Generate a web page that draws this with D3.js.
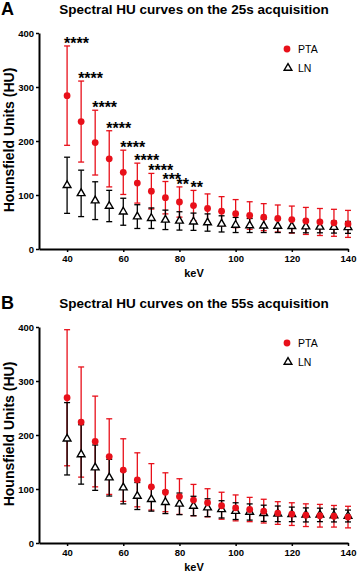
<!DOCTYPE html>
<html>
<head>
<meta charset="utf-8">
<script src="https://cdn.jsdelivr.net/npm/d3@7"></script>
<style>
  body { margin: 0; background: #fff; }
  svg { display: block; font-family: "Liberation Sans", Arial, sans-serif; }
</style>
</head>
<body>
<svg id="chart" width="358" height="574"></svg>
<script>

// energies (keV)
var kev = [40, 45, 50, 55, 60, 65, 70, 75, 80, 85, 90, 95, 100, 105, 110, 115, 120, 125, 130, 135, 140];

// 25s acquisition
var ptaMean25 = [284, 236, 197, 167, 142, 122, 107, 95, 87, 80.5, 75, 70, 65.5, 62, 59, 56.5, 54.5, 52, 50, 48.5, 46.5];
var ptaSd25   = [92, 75, 60, 52, 41, 37, 33, 30, 28, 28, 27, 27, 26, 25.5, 25, 25, 25, 25, 25, 25, 25];
var lnMean25  = [118, 103, 89.5, 79.6, 69, 60, 57, 54, 52, 50.5, 49, 46.5, 44.5, 43.5, 43, 42.5, 42, 41.5, 41, 40.5, 40];
var lnSd25    = [52, 43, 35, 29, 25, 22, 19, 18, 17, 16, 16, 15, 14, 13, 12.5, 12, 12, 11.5, 11, 11, 11];
var stars25   = ["****", "****", "****", "****", "****", "****", "****", "***", "**", "**"];

// 55s acquisition
var ptaMean55 = [269, 224, 188, 160, 135, 117, 104, 94, 86, 79.5, 74.5, 69, 65, 62, 59, 55.5, 53.5, 51.5, 50.5, 49.5, 48];
var ptaSd55   = [126, 102, 84, 70, 58, 50, 43, 36, 33, 29, 26, 25, 24, 22.5, 22, 21, 21, 21, 21, 20, 20];
var lnMean55  = [193, 164, 139.5, 121, 102.5, 87, 81, 75.5, 72.5, 68.5, 65.4, 62.3, 59, 57.4, 55, 54, 53, 52, 52, 51, 50];
var lnSd55    = [67, 55, 42, 34, 30, 25, 22, 21, 20, 18, 16.5, 16, 15.5, 15, 15, 14.5, 13.5, 13, 12.5, 12, 11];

var yTicks = [0, 100, 200, 300, 400];
var xTicks = [40, 60, 80, 100, 120, 140];

var red = "#e8101a";
var svg = d3.select("#chart");

function drawPanel(cfg) {

	var x = d3.scaleLinear().domain([30, 140]).range([39, 348]);
	var y = d3.scaleLinear().domain([0, 400]).range([cfg.bottom, cfg.bottom - 216]);

	var g = svg.append("g");

	// panel letter + title
	g.append("text").attr("x", 1).attr("y", cfg.bottom - 234)
		.attr("font-size", 18).attr("font-weight", "bold").text(cfg.letter);
	g.append("text").attr("x", 194).attr("y", cfg.bottom - 235)
		.attr("text-anchor", "middle").attr("font-size", 13.5).attr("font-weight", "bold")
		.text(cfg.title);

	// axes
	var yAxis = g.append("g").attr("transform", "translate(39,0)")
		.call(d3.axisLeft(y).tickValues(yTicks).tickSize(3).tickSizeOuter(0).tickPadding(2));
	var xAxis = g.append("g").attr("transform", "translate(0," + cfg.bottom + ")")
		.call(d3.axisBottom(x).tickValues(xTicks).tickSize(3).tickSizeOuter(0).tickPadding(3));

	[yAxis, xAxis].forEach(function(a) {
		a.select(".domain").attr("stroke-width", 2).attr("stroke", "#000");
		a.selectAll(".tick line").attr("stroke-width", 1.5).attr("stroke", "#000");
		a.selectAll(".tick text").attr("font-size", 9.5).attr("font-weight", "bold")
			.attr("font-family", "Liberation Sans, Arial, sans-serif").attr("fill", "#000");
	});

	g.append("text").attr("transform", "translate(14," + (cfg.bottom - 109) + ") rotate(-90)")
		.attr("text-anchor", "middle").attr("font-size", 14).attr("font-weight", "bold")
		.text("Hounsfield Units (HU)");
	g.append("text").attr("x", 194).attr("y", cfg.bottom + 28)
		.attr("text-anchor", "middle").attr("font-size", 11).attr("font-weight", "bold")
		.text("keV");

	function errorBars(mean, sd, color) {
		var eb = g.append("g").attr("stroke", color).attr("stroke-width", 1.3);
		kev.forEach(function(k, i) {
			var cx = x(k), hi = y(mean[i] + sd[i]), lo = y(mean[i] - sd[i]);
			eb.append("line").attr("x1", cx).attr("x2", cx).attr("y1", hi).attr("y2", lo);
			eb.append("line").attr("x1", cx - 3).attr("x2", cx + 3).attr("y1", hi).attr("y2", hi);
			eb.append("line").attr("x1", cx - 3).attr("x2", cx + 3).attr("y1", lo).attr("y2", lo);
		});
	}

	errorBars(cfg.ptaMean, cfg.ptaSd, red);
	errorBars(cfg.lnMean, cfg.lnSd, "#000");

	var tri = d3.symbol().type(d3.symbolTriangle).size(26);

	g.append("g").selectAll("path").data(kev).enter().append("path")
		.attr("d", tri)
		.attr("transform", function(d, i) { return "translate(" + x(d) + "," + y(cfg.lnMean[i]) + ")"; })
		.attr("fill", "#fff").attr("stroke", "#000").attr("stroke-width", 1.4);

	g.append("g").selectAll("circle").data(kev).enter().append("circle")
		.attr("cx", function(d) { return x(d); })
		.attr("cy", function(d, i) { return y(cfg.ptaMean[i]); })
		.attr("r", 3.4).attr("fill", red);

	// significance stars
	if (cfg.stars) {
		g.append("g").selectAll("text").data(cfg.stars).enter().append("text")
			.attr("x", function(d, i) { return x(kev[i]) - 3; })
			.attr("y", function(d, i) { return y(cfg.ptaMean[i] + cfg.ptaSd[i]) + 3; })
			.attr("font-size", 16).attr("font-weight", "bold")
			.text(function(d) { return d; });
	}

	// legend
	var ly = cfg.bottom - 200;
	g.append("circle").attr("cx", 287).attr("cy", ly).attr("r", 3.4).attr("fill", red);
	g.append("text").attr("x", 298).attr("y", ly + 3.8).attr("font-size", 10.5).text("PTA");
	g.append("path").attr("d", tri).attr("transform", "translate(288," + (ly + 19) + ")")
		.attr("fill", "#fff").attr("stroke", "#000").attr("stroke-width", 1.4);
	g.append("text").attr("x", 298).attr("y", ly + 22.8).attr("font-size", 10.5).text("LN");
}

drawPanel({
	letter: "A", title: "Spectral HU curves on the 25s acquisition", bottom: 249,
	ptaMean: ptaMean25, ptaSd: ptaSd25, lnMean: lnMean25, lnSd: lnSd25, stars: stars25
});

drawPanel({
	letter: "B", title: "Spectral HU curves on the 55s acquisition", bottom: 543,
	ptaMean: ptaMean55, ptaSd: ptaSd55, lnMean: lnMean55, lnSd: lnSd55, stars: null
});

</script>
</body>
</html>
